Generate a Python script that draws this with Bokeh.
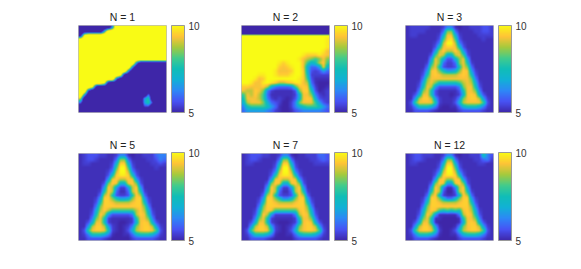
import numpy as np
from bokeh.embed import file_html
from bokeh.layouts import column, row
from bokeh.models import ColorBar, FixedTicker, LinearColorMapper, Range1d
from bokeh.plotting import figure
from bokeh.resources import INLINE

TITLES = ["N = 1", "N = 2", "N = 3", "N = 5", "N = 7", "N = 12"]
CLIM = [5, 10]
TICKS = [5, 10]

# Cell values, top row first. One hex digit per cell;
# the digit is looked up in the panel's level table below.
LEVELS = [5.0, 5.15, 5.35, 5.6, 5.9, 6.2, 6.6, 7.0, 7.5, 8.0, 8.5, 8.9, 9.3, 9.5, 9.8, 10.0]
LEVELS_WIDE = [3.0, 3.6, 4.2, 4.8, 5.4, 6.0, 6.6, 7.2, 7.8, 8.4, 9.0, 9.6, 10.2, 10.8, 11.4, 12.0]
N1 = [
"000000006fffffffffffff",
"0000007fffffffffffffff",
"1cffffffffffffffffffff",
"dfffffffffffffffffffff",
"ffffffffffffffffffffff",
"ffffffffffffffffffffff",
"ffffffffffffffffffffff",
"ffffffffffffffffffffff",
"ffffffffffffffffffffff",
"ffffffffffffff60000000",
"fffffffffffff600000000",
"ffffffffffff6000000000",
"ffffffffffd10000000000",
"fffffffff5000000000000",
"ffffffc100000000000000",
"fffc100000000000000000",
"ff40000000000000000000",
"f700000000000000050000",
"a000000000000000680000",
"5000000000000000684000",
"1000000000000000440000",
"0000000000000000000000",
]
N2 = [
"0000000000000000000000",
"0000000000000000000000",
"ffffffffffffffffffffff",
"fffffffffffffffffffffe",
"fffffffffffffffffffffe",
"fffffffffffffffffffffe",
"ffffffffffffffffffffec",
"fffffffffffffffedddedc",
"ffffffffffffffecba9aca",
"fffffffffedefffc978bd9",
"fffffffffdcdeffc7446c7",
"ffffffffecccdffd732364",
"ffffeeffedddeffd822222",
"fffecdffffffffed931111",
"ffeccefedbbcdeecb41000",
"ddcccdb7544459cdc62001",
"cbbdca52111113add83012",
"9cbdb9411111127cca5212",
"8cccb9521210137cdc7322",
"7bccca74320025accc9632",
"5899998641002578999864",
"4666665421001345555543",
]
N2_BAND_ROWS = 2
N2_BAND_VALUE = -5.0
N3 = [
"1222221112551011222332",
"1222211114aa4111122332",
"1221111127cc7211112222",
"1111111139de9311111211",
"111111125bffb521111111",
"111111138cddc831111111",
"11111116bdbbdb62111111",
"11111139cb77bc93111111",
"1111116ca7337ac6111111",
"1111128ca4224ac8211111",
"111114ac832238ca411111",
"111126cda8667adc621111",
"111138cdcbbbbcdc831111",
"11115acccccccccca51111",
"11127bca888889bcb72111",
"11138cb6333335acc83111",
"1115ac831111138cca5111",
"1137cc831110127cdc7311",
"116bddb6211125acddb621",
"139cccc8211137bcccc931",
"1258887510011478887521",
"1133332100000233333211",
]
N5 = [
"1233322112551011222455",
"1233211114aa4111122354",
"1221111127dd7211112232",
"1111111139ff9311111211",
"111111125bffb521111111",
"111111138deed831111111",
"11111116cdbbdc62111111",
"1111113adc77cda3111111",
"1111116db6226bd6111111",
"1111128db4114bd8211111",
"111114bd832238db411111",
"111126dda8667add621111",
"111138ddcbbbbcdd831111",
"11115adddddddddda51111",
"11127bdb999999bdb72111",
"11138db6333335bdc83111",
"1115ac821111128cca5111",
"1137cc821100127cdc7311",
"116bddb6210125acddb621",
"139cddc8210137bcddc931",
"1258887510011478887521",
"1133332100000233333211",
]
N7 = [
"1233322112551011222443",
"1233211114aa4111122343",
"1221111127dd7211112222",
"1111111139ff9311111111",
"111111125bffb521111111",
"111111138deed831111111",
"11111116cdbbdc62111111",
"1111113adc77cda3111111",
"1111116db6226bd6111111",
"1111128db4114bd8211111",
"111114bd832238db411111",
"111126dda8557add621111",
"111138ddcbbbbcdd831111",
"11115adddddddddda51111",
"11127bdc999999cdb72111",
"11138db6222225bdc83111",
"1115ac821111128cca5111",
"1137cc821000127cdc7311",
"116bddb6210125acddb621",
"139cddc8210137bcddc931",
"1258887510011478887521",
"1133332100000233333211",
]
N12 = [
"1233222112551011222853",
"1233211114aa4111122452",
"1221111127dd7211112211",
"1111111139ff9311111111",
"111111125bffb521111111",
"111111138deed831111111",
"11111116cdaadc62111111",
"1111113adc66cda3111111",
"1111116db5115bd6111111",
"1111128db3003bd8211111",
"111114bd721127db411111",
"111126dda7447add621111",
"111138ddcbbbbcdd831111",
"11115adddddddddda51111",
"11127bdc989898cdb72111",
"11138db6111115bdc83111",
"1115ac811000018cca5111",
"1137cc810000017cdc7311",
"116bddb6100015acddb621",
"139cddc8200137bcddc931",
"1258887510011478887521",
"1133332100000233333211",
]
PANELS = [N1, N2, N3, N5, N7, N12]
PANEL_LEVELS = [LEVELS_WIDE, LEVELS, LEVELS, LEVELS, LEVELS, LEVELS]

# MATLAB parula anchors
ANCHORS = np.array([
    [.2422, .1504, .6603], [.2810, .3228, .9579], [.1786, .5289, .9682],
    [.0689, .6948, .8394], [.0641, .7427, .7185], [.2586, .7971, .5500],
    [.6473, .7906, .2373], [.9990, .7653, .2164], [.9769, .9839, .0805]])
t = np.linspace(0, 1, 256)
anchor_t = np.linspace(0, 1, len(ANCHORS))
PALETTE = ["#%02x%02x%02x" % tuple(int(round(np.interp(s, anchor_t, ANCHORS[:, c]) * 255)) for c in range(3)) for s in t]


def decode(rows, levels):
    return np.array([[levels[int(ch, 16)] for ch in r] for r in rows], dtype=float)


def shade(grid, h, w):
    # Display resampling of the read cells onto the panel's pixels (the
    # reference is drawn with interpolated shading).
    n, m = grid.shape
    ys = (np.arange(h) + 0.5) / h * n - 0.5
    xs = (np.arange(w) + 0.5) / w * m - 0.5
    a = np.array([np.interp(xs, np.arange(m), r) for r in grid])
    return np.array([np.interp(ys, np.arange(n), c) for c in a.T]).T


def panel(title, grid, left, right, top, bottom, frame_h):
    p = figure(width=left + 88 + right, height=top + frame_h + bottom, output_backend="svg",
               toolbar_location=None, x_range=Range1d(0, 1), y_range=Range1d(0, 1),
               min_border_left=left, min_border_right=right, min_border_top=top, min_border_bottom=bottom,
               title=title)
    p.title.align = "center"
    p.title.text_font = "Liberation Sans"
    p.title.text_font_size = "10.5px"
    p.title.text_font_style = "normal"
    p.title.text_color = "#222222"
    p.title.offset = 0
    p.title.standoff = 6
    p.xaxis.visible = False
    p.yaxis.visible = False
    p.grid.visible = False
    p.outline_line_color = "#bbbbbb"
    mapper = LinearColorMapper(palette=PALETTE, low=CLIM[0], high=CLIM[1])
    p.image(image=[shade(grid, frame_h, 88)[::-1]], x=0, y=0, dw=1, dh=1, color_mapper=mapper)
    cb = ColorBar(color_mapper=mapper, ticker=FixedTicker(ticks=TICKS), width=13, height=frame_h,
                  location=(5, 0), padding=0, margin=0, label_standoff=4,
                  major_tick_line_color=None, minor_tick_line_color=None,
                  bar_line_color="#999999", major_label_text_font="Liberation Sans",
                  major_label_text_font_size="10px", major_label_text_color="#333333")
    p.add_layout(cb, "right")
    return p


grids = [decode(rows, levels) for rows, levels in zip(PANELS, PANEL_LEVELS)]
grids[1][:N2_BAND_ROWS] = N2_BAND_VALUE
specs = [(78, 75), (0, 76), (0, 75)]
r1 = [panel(TITLES[i], grids[i], *specs[i], 25, 21, 87) for i in range(3)]
r2 = [panel(TITLES[i + 3], grids[i + 3], *specs[i], 19, 5, 88) for i in range(3)]
page = column(row(*r1, spacing=0), row(*r2, spacing=0), spacing=0)
open("out.html", "w").write(file_html(page, INLINE))
